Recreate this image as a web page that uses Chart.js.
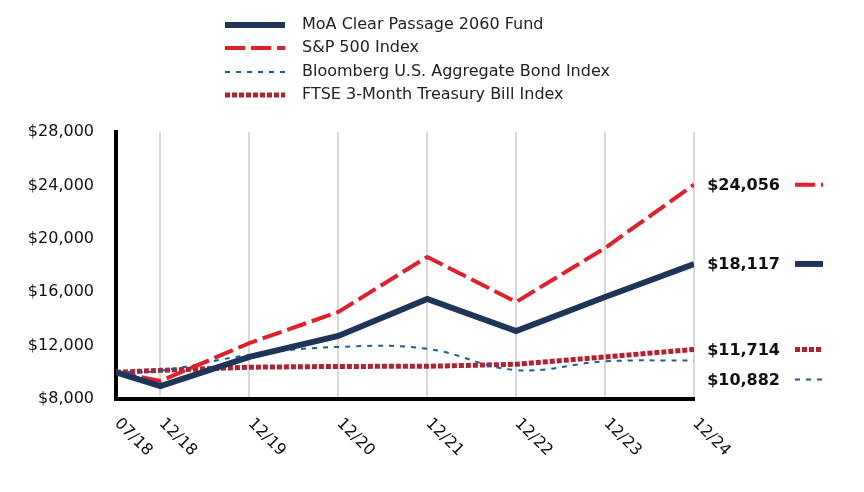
<!DOCTYPE html>
<html>
<head>
<meta charset="utf-8">
<script src="https://cdn.jsdelivr.net/npm/chart.js@4.4.1/dist/chart.umd.min.js"></script>
<style>
  html, body { margin: 0; padding: 0; background: #fff; }
</style>
</head>
<body>
<canvas id="growth-chart" width="864" height="492"></canvas>
<script>
// values
var periodLabels = ["07/18", "12/18", "12/19", "12/20", "12/21", "12/22", "12/23", "12/24"];
var periodMonths = [0, 6, 18, 30, 42, 54, 66, 78];
var fundValues = [10000, 8970, 11150, 12720, 15490, 13090, 15640, 18117];
var spValues = [10000, 9350, 12190, 14520, 18640, 15270, 19310, 24056];
var bondValues = [10000, 10120, 11300, 11900, 11760, 10170, 10820, 10882];
var tbillValues = [10000, 10150, 10380, 10440, 10450, 10600, 11150, 11714];
var yTicks = [8000, 12000, 16000, 20000, 24000, 28000];

var FONT = "'DejaVu Sans', Verdana, sans-serif";

function pts(vals) {
  return vals.map(function(v, i) { return { x: periodMonths[i], y: v }; });
}
function money(v) {
  return "$" + v.toLocaleString("en-US");
}

var series = [
  { label: "MoA Clear Passage 2060 Fund", data: pts(fundValues), borderColor: "#1f3558", borderWidth: 6, borderDash: [], tension: 0 },
  { label: "S&P 500 Index", data: pts(spValues), borderColor: "#e1202b", borderWidth: 4, borderDash: [20, 6], tension: 0 },
  { label: "Bloomberg U.S. Aggregate Bond Index", data: pts(bondValues), borderColor: "#1a5d9e", borderWidth: 2, borderDash: [5, 6], tension: 0.4 },
  { label: "FTSE 3-Month Treasury Bill Index", data: pts(tbillValues), borderColor: "#b3202e", borderWidth: 5, borderDash: [5, 2], tension: 0 }
];

// legend, rotated x labels and the end-value labels
var extras = {
  id: "extras",
  afterDraw: function(chart) {
    var ctx = chart.ctx;
    var xs = chart.scales.x, ys = chart.scales.y;
    ctx.save();

    // x labels, rotated clockwise
    ctx.font = "16px " + FONT;
    ctx.fillStyle = "#111";
    ctx.textAlign = "left";
    ctx.textBaseline = "middle";
    periodMonths.forEach(function(m, i) {
      var px = xs.getPixelForValue(m);
      ctx.save();
      ctx.translate(px + 1, 421);
      ctx.rotate(Math.PI / 4);
      ctx.fillText(periodLabels[i], 0, 0);
      ctx.restore();
    });

    // legend
    var rowY = [24, 47, 71, 94];
    chart.data.datasets.forEach(function(ds, i) {
      ctx.beginPath();
      ctx.strokeStyle = ds.borderColor;
      ctx.lineWidth = ds.borderWidth;
      ctx.setLineDash(ds.borderDash);
      ctx.moveTo(225, rowY[i] + 1);
      ctx.lineTo(285, rowY[i] + 1);
      ctx.stroke();
      ctx.setLineDash([]);
      ctx.fillStyle = "#222";
      ctx.font = "16px " + FONT;
      ctx.textAlign = "left";
      ctx.fillText(ds.label, 302, rowY[i] + 1);
    });

    // end labels, pushed apart when they would collide
    var ends = chart.data.datasets.map(function(ds) {
      var last = ds.data[ds.data.length - 1].y;
      return { ds: ds, v: last, y: ys.getPixelForValue(last) };
    }).sort(function(a, b) { return a.y - b.y; });
    for (var k = 1; k < ends.length; k++) {
      if (ends[k].y - ends[k - 1].y < 30) ends[k].y = ends[k - 1].y + 30;
    }
    ends.forEach(function(e) {
      ctx.font = "bold 16px " + FONT;
      ctx.fillStyle = "#111";
      ctx.textAlign = "right";
      ctx.fillText(money(e.v), 780, e.y + 1);
      ctx.beginPath();
      ctx.strokeStyle = e.ds.borderColor;
      ctx.lineWidth = e.ds.borderWidth;
      ctx.setLineDash(e.ds.borderDash.length ? e.ds.borderDash : []);
      ctx.moveTo(795, e.y);
      ctx.lineTo(823, e.y);
      ctx.stroke();
      ctx.setLineDash([]);
    });
    ctx.restore();
  }
};

var ctx = document.getElementById("growth-chart").getContext("2d");
var growthChart = new Chart(ctx, {
  type: "line",
  data: {
    datasets: series.map(function(s) {
      return {
        label: s.label,
        data: s.data,
        borderColor: s.borderColor,
        borderWidth: s.borderWidth,
        borderDash: s.borderDash,
        tension: s.tension,
        pointRadius: 0,
        fill: false,
        borderCapStyle: "butt",
        borderJoinStyle: "miter"
      };
    })
  },
  options: {
    responsive: false,
    animation: false,
    layout: { padding: { top: 132, right: 170, left: 0, bottom: 0 } },
    plugins: { legend: { display: false }, tooltip: { enabled: false } },
    scales: {
      x: {
        type: "linear",
        min: 0,
        max: 78,
        afterBuildTicks: function(s) { s.ticks = periodMonths.map(function(m) { return { value: m }; }); },
        afterFit: function(s) { s.height = 93; },
        ticks: { display: false },
        grid: { color: "#d9d9d9", lineWidth: 2, drawTicks: false },
        border: { display: true, color: "#000", width: 4 }
      },
      y: {
        min: 8000,
        max: 28000,
        afterBuildTicks: function(s) { s.ticks = yTicks.map(function(v) { return { value: v }; }); },
        afterFit: function(s) { s.width = 116; },
        ticks: {
          padding: 22,
          color: "#111",
          font: { family: FONT, size: 16 },
          callback: function(v) { return money(v); }
        },
        grid: { display: false, drawTicks: false },
        border: { display: true, color: "#000", width: 4 }
      }
    }
  },
  plugins: [extras]
});
</script>
</body>
</html>
